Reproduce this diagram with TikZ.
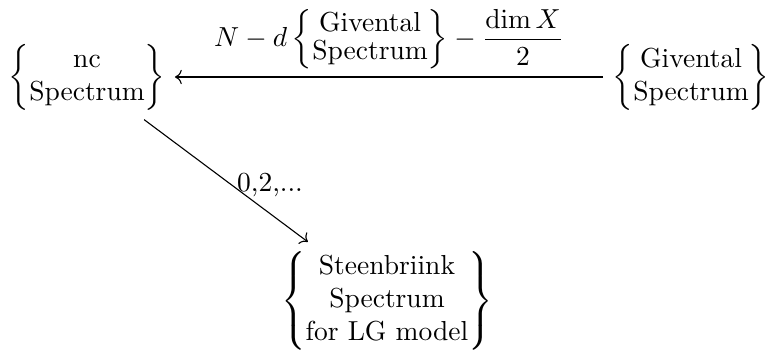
\documentclass[tikz,border=0pt]{standalone}
\usepackage{amsmath}
\usepackage{graphicx}
\usetikzlibrary{arrows.meta}
\tikzset{
  obj/.style={inner sep=3.3pt},
  mapto/.style={-{Computer Modern Rightarrow}, line width=0.4pt},
  arrlabel/.style={above, inner sep=2.6pt},
}
\newcommand{\gsmat}{\begin{matrix}\text{Givental}\\ \text{Spectrum}\end{matrix}}
\newcommand{\sqlbr}{\raisebox{0.3pt}{\scalebox{1}[0.9]{$\displaystyle\nulldelimiterspace=0pt\left\{\vphantom{\gsmat}\right.$}}}
\newcommand{\sqrbr}{\raisebox{0.3pt}{\scalebox{1}[0.9]{$\displaystyle\nulldelimiterspace=0pt\left.\vphantom{\gsmat}\right\}$}}}
\begin{document}
\begin{tikzpicture}[x=0.36364pt,y=-0.36364pt]
\useasboundingbox (0,0) rectangle (767,354);
\node[obj] (nc) at (87,77) {$\left\{\begin{matrix}\text{nc}\\ \text{Spectrum}\end{matrix}\right\}$};
\node[obj] (giv) at (691,77) {$\left\{\gsmat\right\}$};
\node[obj] (steen) at (387,301) {$\left\{\begin{matrix}\text{Steenbriink}\\ \text{Spectrum}\\ \text{for LG model}\end{matrix}\right\}$};
\draw[mapto] (giv) -- node[arrlabel] (lab) {\renewcommand{\arraystretch}{0.82}$\displaystyle N-d\,\sqlbr\gsmat\sqrbr-\frac{\dim X}{2}$} (nc);
\draw[mapto] (nc) -- (steen);
\node (dl) at (270,185) {0,2,...};
\end{tikzpicture}
\end{document}
